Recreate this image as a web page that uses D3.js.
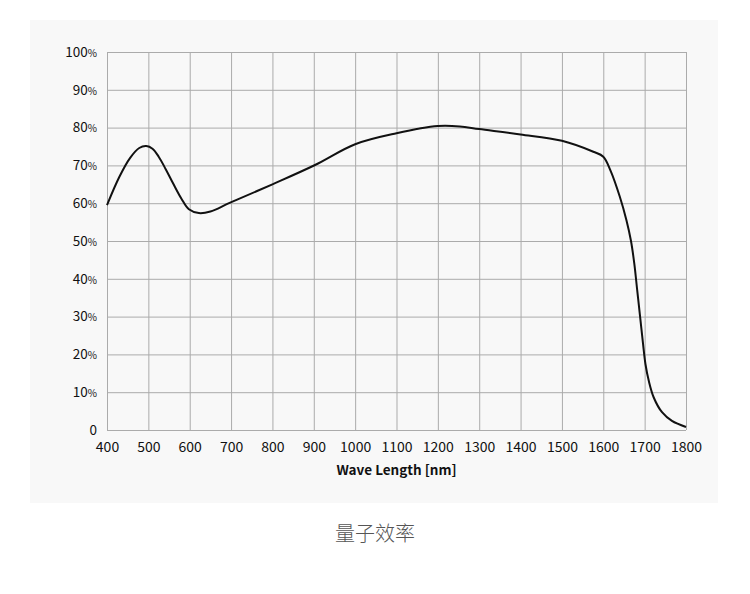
<!DOCTYPE html>
<html>
<head>
<meta charset="utf-8">
<script src="https://cdn.jsdelivr.net/npm/d3@7"></script>
<style>
  body { margin: 0; background: #fff; }
  text { font-family: "Noto Sans CJK SC", "Noto Sans", sans-serif; }
</style>
</head>
<body>
<div id="chart"></div>
<script>
// wavelength (nm) and quantum efficiency (%)
const wavelength = [400, 430, 456, 478, 495, 510, 525, 542, 560, 580, 598, 622, 650, 695, 800, 903, 1000,
  1100, 1200, 1253, 1300, 1400, 1500, 1576, 1600, 1618, 1640, 1656, 1667, 1675, 1682, 1689, 1696,
  1702, 1710, 1722, 1742, 1766, 1800];
const efficiency = [59.5, 67, 72, 74.6, 75.1, 74.4, 72.3, 69, 65.2, 61.2, 58.4, 57.4, 57.8, 60, 65, 70.1, 75.6,
  78.5, 80.4, 80.3, 79.6, 78.2, 76.5, 73.6, 72.3, 68.5, 61.7, 55.5, 50, 44, 37, 30, 22.9,
  17.4, 13, 8.6, 4.7, 2.4, 0.8];
const xTicks = d3.range(400, 1801, 100);
const yTicks = d3.range(0, 101, 10);
const xTitle = "Wave Length [nm]";
const caption = "量子效率";

const data = wavelength.map((w, i) => ({w: w, v: efficiency[i]}));

const W = 750, H = 594;
const margin = {top: 52, right: 64, bottom: 164, left: 107};
const width = W - margin.left - margin.right;
const height = H - margin.top - margin.bottom;

const svg = d3.select("#chart").append("svg")
  .attr("width", W)
  .attr("height", H);

// light gray panel
svg.append("rect")
  .attr("x", 30).attr("y", 20)
  .attr("width", 688).attr("height", 483)
  .attr("fill", "#f8f8f8");

const g = svg.append("g")
  .attr("transform", `translate(${margin.left},${margin.top})`);

const x = d3.scaleLinear().domain([400, 1800]).range([0, width]);
const y = d3.scaleLinear().domain([0, 100]).range([height, 0]);

// grid
g.append("g")
  .attr("transform", `translate(0,${height})`)
  .call(d3.axisBottom(x).tickValues(xTicks).tickSize(-height).tickFormat(""))
  .call(a => a.select(".domain").remove())
  .call(a => a.selectAll("line").attr("stroke", "#ababab"));

g.append("g")
  .call(d3.axisLeft(y).tickValues(yTicks).tickSize(-width).tickFormat(""))
  .call(a => a.select(".domain").remove())
  .call(a => a.selectAll("line").attr("stroke", "#ababab"));

// x labels
const xAxis = g.append("g")
  .attr("transform", `translate(0,${height})`)
  .call(d3.axisBottom(x).tickValues(xTicks).tickSize(0).tickPadding(12).tickFormat(d3.format("d")));
xAxis.select(".domain").remove();
xAxis.selectAll("text").attr("font-size", 14).attr("fill", "#111")
  .style("font-family", '"Noto Sans CJK SC", sans-serif');

// y labels with smaller percent sign
const yAxis = g.append("g")
  .call(d3.axisLeft(y).tickValues(yTicks).tickSize(0).tickPadding(10).tickFormat(""));
yAxis.select(".domain").remove();
yAxis.selectAll(".tick text")
  .attr("font-size", 13.5).attr("fill", "#111")
  .style("font-family", '"Noto Sans CJK SC", sans-serif')
  .each(function(d) {
    const t = d3.select(this);
    t.append("tspan").text(d);
    if (d > 0) t.append("tspan").attr("font-size", 10).text("%");
  });

// curve
const line = d3.line()
  .x(d => x(d.w))
  .y(d => y(d.v))
  .curve(d3.curveCatmullRom.alpha(0.5));

g.append("path")
  .datum(data)
  .attr("fill", "none")
  .attr("stroke", "#111")
  .attr("stroke-width", 2)
  .attr("d", line);

// axis title
g.append("text")
  .attr("x", width / 2)
  .attr("y", height + 45)
  .attr("text-anchor", "middle")
  .attr("font-size", 13.5)
  .attr("font-weight", "bold")
  .attr("fill", "#111")
  .text(xTitle);

// caption
svg.append("text")
  .attr("x", 375)
  .attr("y", 541)
  .attr("text-anchor", "middle")
  .attr("font-size", 20)
  .attr("font-weight", 300)
  .attr("fill", "#555")
  .text(caption);
</script>
</body>
</html>
